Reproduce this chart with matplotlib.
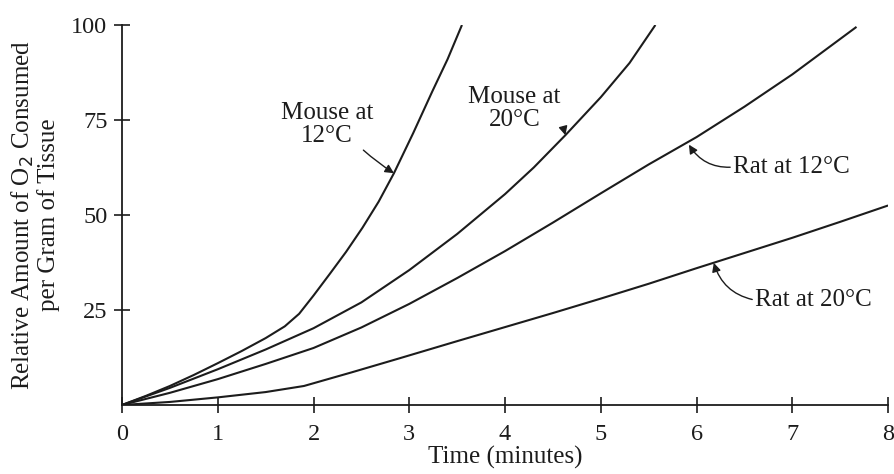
import numpy as np
import matplotlib.pyplot as plt

plt.rcParams['font.family'] = ['Liberation Serif', 'DejaVu Serif']

# curves (time in minutes, relative O2 consumed)
mouse12_t = [0, 0.25, 0.5, 0.75, 1.0, 1.25, 1.5, 1.7, 1.85,
             2.0, 2.17, 2.34, 2.51, 2.68, 2.84, 3.04, 3.24, 3.4, 3.55]
mouse12_y = [0, 2.4, 5.0, 7.9, 11.0, 14.2, 17.6, 20.7, 24.0,
             28.8, 34.5, 40.3, 46.6, 53.5, 61.0, 71.5, 82.5, 91.0, 100.0]

mouse20_t = [0, 0.5, 1.0, 1.5, 2.0, 2.5, 3.0, 3.5, 4.0, 4.3, 4.63,
             5.0, 5.3, 5.57]
mouse20_y = [0, 4.5, 9.4, 14.6, 20.2, 27.0, 35.5, 45.0, 55.5, 62.5, 71.0,
             81.0, 90.0, 100.0]

rat12_t = [0, 0.5, 1.0, 1.5, 2.0, 2.5, 3.0, 3.5, 4.0, 4.5, 5.0, 5.5,
           6.0, 6.5, 7.0, 7.67]
rat12_y = [0, 3.2, 6.8, 10.8, 15.0, 20.4, 26.6, 33.4, 40.5, 48.0, 55.7,
           63.3, 70.5, 78.5, 87.0, 99.5]

rat20_t = [0, 0.5, 1.0, 1.5, 1.9, 2.4, 2.9, 3.5, 4.0, 4.5, 5.0, 5.5,
           6.0, 6.5, 7.0, 7.5, 8.0]
rat20_y = [0, 0.8, 2.0, 3.4, 5.0, 8.6, 12.3, 16.8, 20.5, 24.2, 28.0,
           31.9, 36.0, 40.0, 44.0, 48.2, 52.5]

xticks = [0, 1, 2, 3, 4, 5, 6, 7, 8]
yticks = [25, 50, 75, 100]

ink = '#1c1c1c'

fig = plt.figure(figsize=(8.95, 4.74), dpi=100)
ax = fig.add_axes([0.1363, 0.1456, 0.856, 0.8017])

for t, y in [(mouse12_t, mouse12_y), (mouse20_t, mouse20_y),
             (rat12_t, rat12_y), (rat20_t, rat20_y)]:
    ax.plot(t, y, color=ink, lw=1.5, solid_capstyle='butt',
            solid_joinstyle='round')

ax.set_xlim(0, 8)
ax.set_ylim(0, 100)
ax.set_xticks(xticks)
ax.set_yticks(yticks)
ax.spines['top'].set_visible(False)
ax.spines['right'].set_visible(False)
for s in ['left', 'bottom']:
    ax.spines[s].set_color(ink)
    ax.spines[s].set_linewidth(1.3)
ax.tick_params(direction='inout', length=11, width=1.2, colors=ink,
               labelsize=17.5)
ax.tick_params(axis='x', pad=8)
ax.tick_params(axis='y', pad=5)

ax.set_xlabel('Time (minutes)', fontsize=18, color=ink, labelpad=1)
ax.set_ylabel('Relative Amount of O$_2$ Consumed\nper Gram of Tissue',
              fontsize=18, color=ink, labelpad=8, linespacing=1.05)

arrow = dict(arrowstyle='-|>', color=ink, lw=1.0, mutation_scale=13,
             shrinkA=0, shrinkB=0)

ax.annotate('Mouse at\n12°C', xy=(2.84, 61), xytext=(2.14, 73.7),
            ha='center', va='center', fontsize=18, color=ink,
            linespacing=1.05,
            arrowprops=dict(arrow, connectionstyle='arc3,rad=0.05',
                            relpos=(0.82, 0.08)))
ax.annotate('Mouse at\n20°C', xy=(4.63, 71), xytext=(4.1, 78),
            ha='center', va='center', fontsize=18, color=ink,
            linespacing=1.05,
            arrowprops=dict(arrow, connectionstyle='arc3,rad=-0.35',
                            relpos=(0.82, 0.3)))
ax.annotate('Rat at 12°C', xy=(5.92, 68.5), xytext=(6.38, 62.6),
            ha='left', va='center', fontsize=18, color=ink,
            arrowprops=dict(arrow, connectionstyle='arc3,rad=-0.3',
                            relpos=(0, 0.5)))
ax.annotate('Rat at 20°C', xy=(6.18, 37.4), xytext=(6.61, 27.6),
            ha='left', va='center', fontsize=18, color=ink,
            arrowprops=dict(arrow, connectionstyle='arc3,rad=-0.3',
                            relpos=(0, 0.5)))

fig.savefig('out.png', dpi=100)
